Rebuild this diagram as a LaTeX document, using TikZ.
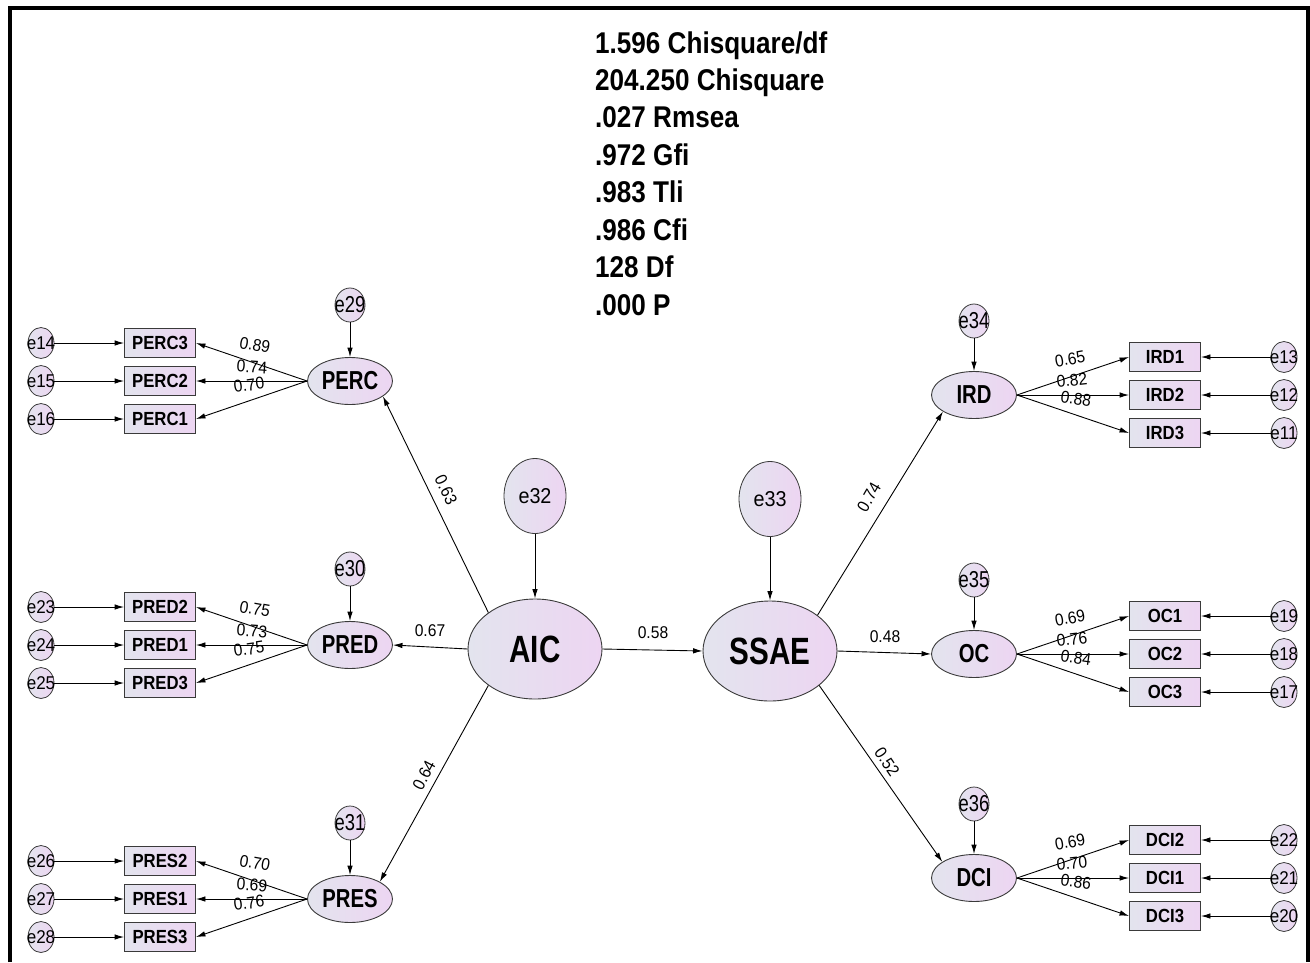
\documentclass[tikz,border=0pt]{standalone}
\usepackage{fontspec}
\setmainfont{Liberation Sans}
\newfontfamily\narrowfont[FakeStretch=0.78]{Liberation Sans}
\newfontfamily\boxfont[FakeStretch=0.88]{Liberation Sans}
\newfontfamily\numfont[FakeStretch=0.92]{Liberation Sans}
\newfontfamily\tallfont[FakeStretch=0.8]{Liberation Sans}
\newfontfamily\statfont[FakeStretch=0.87]{Liberation Sans}
\usetikzlibrary{arrows.meta,shapes.geometric}

\definecolor{fillL}{HTML}{E3E4EE}
\definecolor{fillR}{HTML}{EDD5F2}
\definecolor{edgegray}{HTML}{3A3A3A}

% zero-width text so that the shapes keep their set size
\newcommand{\zw}[1]{\makebox[0pt]{#1}}

\tikzset{
  arr/.style={draw=black, line width=0.9pt, -{Latex[length=9.5pt,width=5.5pt]}},
  latent/.style={ellipse, draw=edgegray, line width=0.9pt, left color=fillL, right color=fillR,
    inner sep=0pt, minimum width=85pt, minimum height=47pt,
    font=\narrowfont\bfseries\fontsize{26}{26}\selectfont},
  biglatent/.style={latent, minimum width=134pt, minimum height=100pt,
    font=\narrowfont\bfseries\fontsize{38}{38}\selectfont},
  indicator/.style={rectangle, draw=edgegray, line width=0.9pt, left color=fillL, right color=fillR,
    inner sep=0pt, minimum width=71pt, minimum height=29pt,
    font=\boxfont\bfseries\fontsize{19}{19}\selectfont},
  errsmall/.style={ellipse, draw=edgegray, line width=0.8pt, left color=fillL, right color=fillR,
    inner sep=0pt, minimum width=26pt, minimum height=31pt,
    font=\numfont\fontsize{18.5}{18.5}\selectfont},
  errmid/.style={errsmall, minimum width=30pt, minimum height=34pt,
    font=\tallfont\fontsize{23}{23}\selectfont},
  errbig/.style={errsmall, minimum width=62pt, minimum height=75pt,
    font=\numfont\fontsize{21.5}{21.5}\selectfont},
  coef/.style={font=\numfont\fontsize{17}{17}\selectfont, inner sep=0pt},
  fitstat/.style={anchor=base west, inner sep=0pt, font=\statfont\bfseries\fontsize{30}{30}\selectfont},
}

\begin{document}
\begin{tikzpicture}[x=1pt, y=-1pt]
\useasboundingbox (0,0) rectangle (1310,962);

% frame
\draw[line width=4pt] (9.5,962) -- (9.5,8) -- (1308,8) -- (1308,962);

% fit statistics
\foreach \t [count=\i from 0] in {1.596 Chisquare/df, 204.250 Chisquare, .027 Rmsea, .972 Gfi,
    .983 Tli, .986 Cfi, 128 Df, .000 P}
  \node[fitstat] (stat\i) at (595, 53+37.43*\i) {\t};

% central constructs
\node[biglatent] (AIC) at (535,649) {\zw{AIC}};
\node[biglatent] (SSAE) at (770,651) {\zw{SSAE}};
\node[errbig] (e32) at (535,496) {\zw{e32}};
\node[errbig] (e33) at (770,499) {\zw{e33}};
\draw[arr] (e32) -- (AIC);
\draw[arr] (e33) -- (SSAE);

% left-hand measurement blocks
\foreach \lat/\ly/\res/\ia/\ib/\ic/\ea/\eb/\ec/\ca/\cb/\cc in {
    PERC/381/e29/PERC3/PERC2/PERC1/e14/e15/e16/0.89/0.74/0.70,
    PRED/645/e30/PRED2/PRED1/PRED3/e23/e24/e25/0.75/0.73/0.75,
    PRES/899/e31/PRES2/PRES1/PRES3/e26/e27/e28/0.70/0.69/0.76}
{
  \node[latent] (\lat) at (350,\ly) {\zw{\lat}};
  \node[errmid] (\res) at (350,\ly-76) {\zw{\res}};
  \node[indicator] (\ia) at (160,\ly-38) {\ia};
  \node[indicator] (\ib) at (160,\ly) {\ib};
  \node[indicator] (\ic) at (160,\ly+38) {\ic};
  \node[errsmall] (\ea) at (41,\ly-38) {\zw{\ea}};
  \node[errsmall] (\eb) at (41,\ly) {\zw{\eb}};
  \node[errsmall] (\ec) at (41,\ly+38) {\zw{\ec}};
  \draw[arr] (\res) -- (\lat);
  \draw[arr] (\lat.west) -- (\ia.east);
  \draw[arr] (\lat.west) -- (\ib.east);
  \draw[arr] (\lat.west) -- (\ic.east);
  \draw[arr] (\ea) -- (\ia);
  \draw[arr] (\eb) -- (\ib);
  \draw[arr] (\ec) -- (\ic);
  \node[coef, rotate=-10] (c\ia) at (255,\ly-36) {\ca};
  \node[coef, rotate=-4] (c\ib) at (252,\ly-14) {\cb};
  \node[coef, rotate=8] (c\ic) at (249,\ly+4) {\cc};
}

% right-hand measurement blocks
\foreach \lat/\ly/\res/\ia/\ib/\ic/\ea/\eb/\ec/\ca/\cb/\cc in {
    IRD/395/e34/IRD1/IRD2/IRD3/e13/e12/e11/0.65/0.82/0.88,
    OC/654/e35/OC1/OC2/OC3/e19/e18/e17/0.69/0.76/0.84,
    DCI/878/e36/DCI2/DCI1/DCI3/e22/e21/e20/0.69/0.70/0.86}
{
  \node[latent] (\lat) at (974,\ly) {\zw{\lat}};
  \node[errmid] (\res) at (974,\ly-74) {\zw{\res}};
  \node[indicator] (\ia) at (1165,\ly-38) {\ia};
  \node[indicator] (\ib) at (1165,\ly) {\ib};
  \node[indicator] (\ic) at (1165,\ly+38) {\ic};
  \node[errsmall] (\ea) at (1284,\ly-38) {\zw{\ea}};
  \node[errsmall] (\eb) at (1284,\ly) {\zw{\eb}};
  \node[errsmall] (\ec) at (1284,\ly+38) {\zw{\ec}};
  \draw[arr] (\res) -- (\lat);
  \draw[arr] (\lat.east) -- (\ia.west);
  \draw[arr] (\lat.east) -- (\ib.west);
  \draw[arr] (\lat.east) -- (\ic.west);
  \draw[arr] (\ea) -- (\ia);
  \draw[arr] (\eb) -- (\ib);
  \draw[arr] (\ec) -- (\ic);
  \node[coef, rotate=10] (c\ia) at (1070,\ly-36) {\ca};
  \node[coef, rotate=6] (c\ib) at (1072,\ly-15) {\cb};
  \node[coef, rotate=-8] (c\ic) at (1076,\ly+4) {\cc};
}

% structural paths
\draw[arr] (AIC.142) -- (PERC.-25);
\draw[arr] (AIC.west) -- (PRED.east);
\draw[arr] (AIC.218) -- (PRES.30);
\draw[arr] (AIC.east) -- (SSAE.west);
\draw[arr] (SSAE.37) -- (IRD.208);
\draw[arr] (SSAE.east) -- (OC.west);
\draw[arr] (SSAE.-35) -- (DCI.153);

\node[coef, rotate=-64] (cPERC) at (446,490) {0.63};
\node[coef] (cPRED) at (430,631) {0.67};
\node[coef, rotate=62] (cPRES) at (424,775) {0.64};
\node[coef] (cSSAE) at (653,633) {0.58};
\node[coef, rotate=60] (cIRD) at (869,497) {0.74};
\node[coef] (cOC) at (885,637) {0.48};
\node[coef, rotate=-56] (cDCI) at (887,762) {0.52};
\end{tikzpicture}
\end{document}
